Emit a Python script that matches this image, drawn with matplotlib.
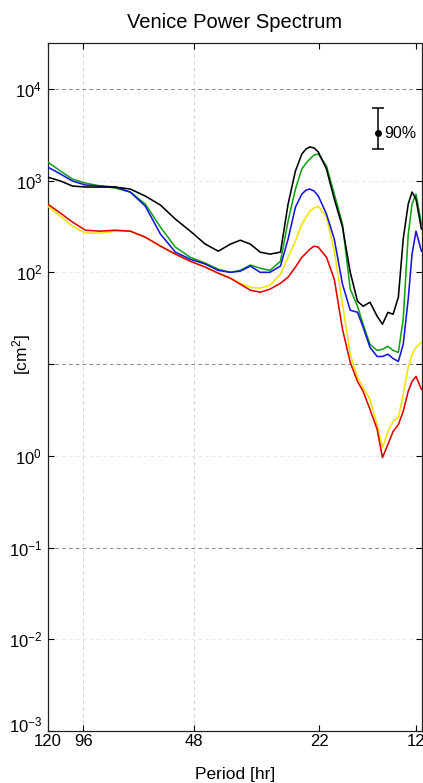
import matplotlib
matplotlib.use("Agg")
import matplotlib.pyplot as plt
import matplotlib.transforms as mtransforms
import numpy as np
from matplotlib.ticker import NullLocator

plt.rcParams['font.family'] = ['Liberation Sans', 'DejaVu Sans']
plt.rcParams['mathtext.fontset'] = 'custom'
plt.rcParams['mathtext.rm'] = 'Liberation Sans'
plt.rcParams['mathtext.it'] = 'Liberation Sans:italic'
plt.rcParams['mathtext.bf'] = 'Liberation Sans:bold'

# ---- data (period in hours, power in cm^2) ----
period = [120, 110.8, 102.8, 94.8, 86.3, 78.6, 71.6, 65.2, 59.3, 54.0, 49.2,
          44.8, 41.3, 38.3, 36.0, 33.8, 31.8, 29.9, 28.0, 26.7, 25.5, 24.5,
          23.85, 23.3, 22.7, 22.1, 21.0, 20.0, 19.0, 18.1, 17.3, 16.7, 16.0,
          15.3, 14.8, 14.3, 13.85, 13.4, 13.0, 12.6, 12.3, 12.0, 11.6]

black = [1090, 990, 873, 851, 850, 850, 809, 678, 541, 380, 281, 203, 170, 203,
         224, 203, 166, 158, 166, 555, 1272, 1950, 2213, 2328, 2270, 2050, 1337,
         629, 311, 100, 48.4, 42.7, 47.2, 33.2, 27.2, 36.6, 34.9, 53.5, 230,
         555, 750, 629, 296]
green = [1595, 1272, 1040, 940, 873, 829, 750, 555, 311, 188, 146, 126, 108,
         100, 105, 120, 111, 105, 132, 362, 809, 1337, 1556, 1720, 1900, 1950,
         1443, 713, 335, 65.5, 42.7, 27.0, 16.4, 14.1, 14.5, 15.6, 14.1, 13.4,
         30.8, 255, 555, 713, 335]
blue = [1406, 1180, 990, 895, 873, 851, 750, 527, 261, 166, 139, 123, 105, 100,
        103, 117, 100, 100, 117, 230, 514, 713, 789, 809, 770, 678, 431, 230,
        74.2, 38.6, 36.7, 25.2, 15.2, 12.1, 12.1, 12.8, 11.5, 10.7, 16.4, 50.9,
        158, 281, 170]
yellow = [527, 410, 319, 268, 268, 281, 281, 242, 193, 158, 132, 114, 97.8,
          86.3, 76.1, 68.8, 67.1, 72.4, 95.4, 146, 219, 335, 400, 465, 501, 527,
          400, 170, 44.9, 12.8, 7.16, 5.57, 4.12, 2.19, 1.23, 1.84, 2.37, 2.62,
          4.67, 9.2, 12.8, 15.2, 17.3]
red = [555, 442, 353, 288, 281, 288, 281, 242, 193, 158, 132, 114, 97.8, 86.3,
       74.2, 63.8, 60.7, 65.5, 76.1, 88.5, 114, 146, 162, 179, 193, 188, 146,
       84.1, 23.9, 10.4, 6.47, 5.04, 3.20, 1.94, 0.957, 1.33, 1.84, 2.19, 3.05,
       5.04, 6.47, 7.35, 5.30]

xtick_periods = [120, 96, 48, 22, 12]
xtick_labels = ['120', '96', '48', '22', '12']
xgrid_periods = [96, 48]
ytick_exps = [-3, -2, -1, 0, 1, 2, 3, 4]
ytick_labels = ['$10^{-3}$', '$10^{-2}$', '$10^{-1}$', '$10^{0}$', '',
                '$10^{2}$', '$10^{3}$', '$10^{4}$']

# 90% confidence bar
ci_period = 15.2
ci_center = 3300
ci_low = 2213
ci_high = 6200
ci_label = '90%'

# ---- figure ----
fig = plt.figure(figsize=(4.23, 7.83), dpi=100)
ax = fig.add_axes([47.7 / 423, 52 / 783, (421.7 - 47.7) / 423, 688 / 783])
ax.set_xscale('log')
ax.set_yscale('log')
ax.set_xlim(120, 11.58)
ax.set_ylim(1e-3, 10 ** 4.5)

# grid lines
for p in xgrid_periods:
    ax.axvline(p, color='#d4d4d4', lw=0.7, ls=(0, (4, 3)), zorder=0)
for e in ytick_exps:
    if e in (4, 1, -1):
        ax.axhline(10.0 ** e, color='#8c8c8c', lw=0.7, ls=(0, (4, 3)), zorder=0)
    else:
        ax.axhline(10.0 ** e, color='#e8e8e8', lw=0.7, ls=(0, (4, 3)), zorder=0)

lw = 1.15
ax.plot(period, yellow, color='#f2e400', lw=lw, zorder=3)
ax.plot(period, red, color='#e00000', lw=lw, zorder=4)
ax.plot(period, green, color='#15a015', lw=lw, zorder=3)
ax.plot(period, blue, color='#1515d8', lw=lw, zorder=4)
ax.plot(period, black, color='black', lw=lw, zorder=5)

ax.errorbar([ci_period], [ci_center],
            yerr=[[ci_center - ci_low], [ci_high - ci_center]],
            fmt='o', color='black', ms=4, capsize=4, elinewidth=1.1,
            capthick=1.1, zorder=6)
ax.text(ci_period * 0.965, ci_center, ci_label, va='center', ha='left',
        fontsize=11.5)

ax.xaxis.set_minor_locator(NullLocator())
ax.yaxis.set_minor_locator(NullLocator())
ax.set_xticks(xtick_periods)
ax.set_xticklabels(xtick_labels)
ax.set_yticks([10.0 ** e for e in ytick_exps])
ax.set_yticklabels(ytick_labels)
ax.tick_params(axis='both', which='both', direction='in', length=4.5, width=0.8,
               top=True, right=True, labelsize=12)
ax.tick_params(axis='x', pad=2)
ax.tick_params(axis='y', pad=4)
for s in ax.spines.values():
    s.set_linewidth(0.9)
    s.set_color('#222222')

# raise the bottom y tick label slightly (as in the reference)
lbl = ax.get_yticklabels()[0]
lbl.set_transform(lbl.get_transform() +
                  mtransforms.ScaledTranslation(0, 5 / 72, fig.dpi_scale_trans))

ax.set_title('Venice Power Spectrum', fontsize=14.5, pad=11)
ax.set_xlabel('Period [hr]', fontsize=12.5, va='top')
ax.xaxis.set_label_coords(0.5, -(767 - 731) / 688)
ax.set_ylabel('[cm$^2$]', fontsize=12.5)
ax.yaxis.set_label_coords(-0.039, (731 - 355) / 688)

fig.savefig('out.png', dpi=100)
